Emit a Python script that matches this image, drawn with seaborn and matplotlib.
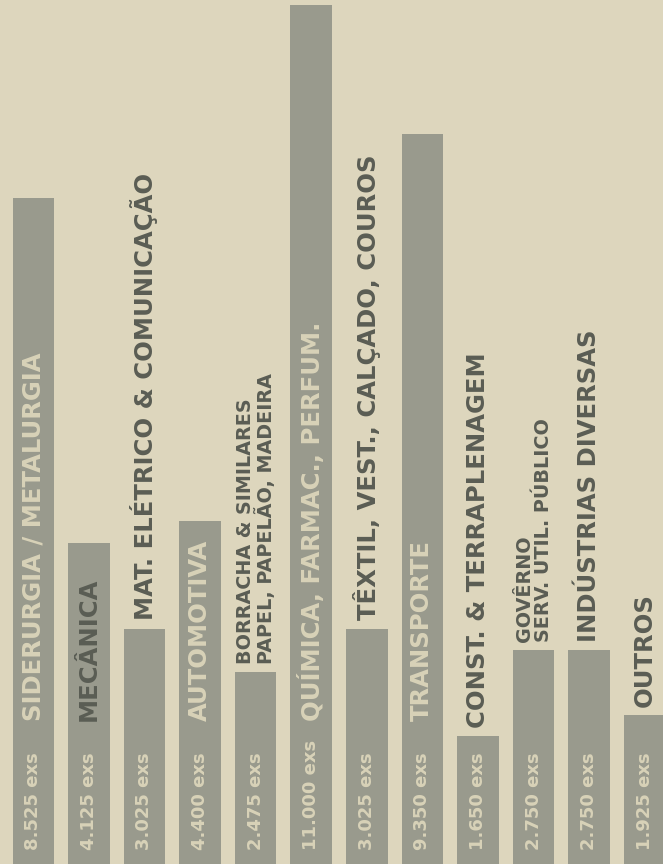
import matplotlib
matplotlib.use("Agg")
import matplotlib.pyplot as plt
import seaborn as sns
import pandas as pd

# leitores por setor (exemplares)
setores = ["SIDERURGIA / METALURGIA", "MECÂNICA", "MAT. ELÉTRICO & COMUNICAÇÃO",
           "AUTOMOTIVA", "BORRACHA & SIMILARES\nPAPEL, PAPELÃO, MADEIRA",
           "QUÍMICA, FARMAC., PERFUM.", "TÊXTIL, VEST., CALÇADO, COUROS",
           "TRANSPORTE", "CONST. & TERRAPLENAGEM", "GOVÊRNO\nSERV. UTIL. PÚBLICO",
           "INDÚSTRIAS DIVERSAS", "OUTROS"]
exemplares = [8525, 4125, 3025, 4400, 2475, 11000, 3025, 9350, 1650, 2750, 2750, 1925]
rotulos = ["8.525 exs", "4.125 exs", "3.025 exs", "4.400 exs", "2.475 exs", "11.000 exs",
           "3.025 exs", "9.350 exs", "1.650 exs", "2.750 exs", "2.750 exs", "1.925 exs"]
# label drawn inside the bar (True) or above it (False)
dentro = [True, True, False, True, False, True, False, True, False, False, False, False]

FUNDO = "#ddd6bd"
BARRA = "#999a8d"
ESCURO = "#5a5d54"
CLARO = "#d8d2b8"

df = pd.DataFrame({"setor": setores, "exs": exemplares})

fig = plt.figure(figsize=(6.63, 8.64), dpi=100, facecolor=FUNDO)
ax = fig.add_axes([0, 0, 1, 1])
ax.set_facecolor(FUNDO)

sns.barplot(data=df, x="setor", y="exs", color=BARRA, saturation=1,
            width=0.75, ax=ax)

ax.set_xlim(-0.6, 11.33)
ax.set_ylim(20, 11060)
ax.axis("off")

for i, (nome, v, r, d) in enumerate(zip(setores, exemplares, rotulos, dentro)):
    ax.text(i, 200, r, rotation=90, ha="center", va="bottom",
            color=CLARO, fontsize=13, fontweight="bold", family="DejaVu Sans")
    duas = "\n" in nome
    fs = 13.8 if duas else 17.5
    if d:
        cor = ESCURO if nome == "MECÂNICA" else CLARO
        ax.text(i, 1850, nome, rotation=90, ha="center", va="bottom",
                color=cor, fontsize=fs, fontweight="bold", family="DejaVu Sans")
    else:
        ax.annotate(nome, xy=(i, v), xytext=(0, 6), textcoords="offset points",
                    rotation=90, ha="center", va="bottom", color=ESCURO,
                    fontsize=fs, fontweight="bold", family="DejaVu Sans",
                    linespacing=1.0, multialignment="left")

fig.savefig("out.png", dpi=100, facecolor=FUNDO)
